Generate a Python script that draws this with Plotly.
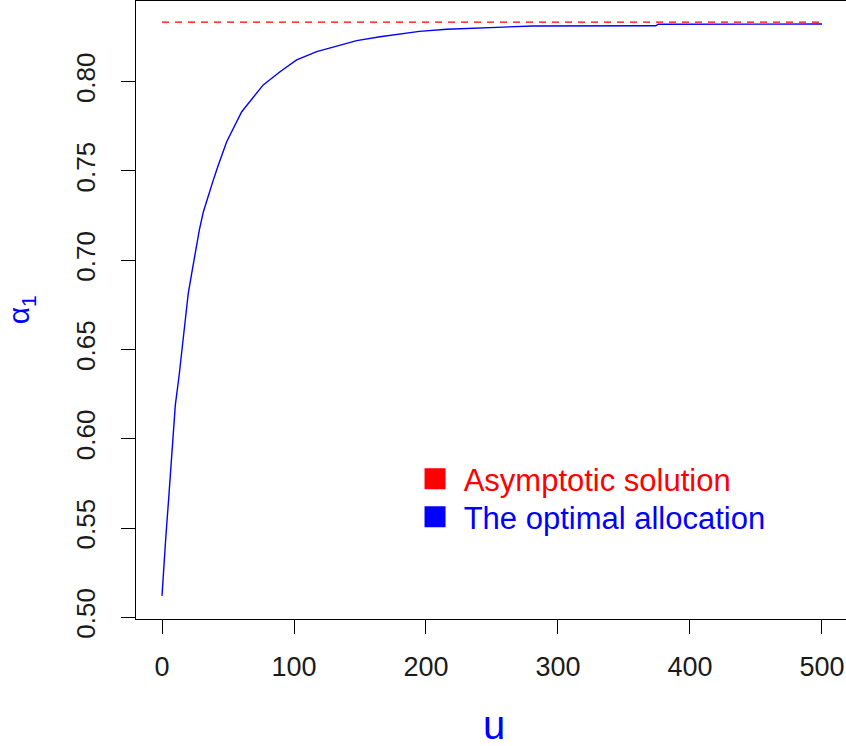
import plotly.graph_objects as go

# ---- data ----
u_vals = [0, 1.5, 2.8, 5.3, 7.6, 10.1, 12.9, 15.2, 17.4, 19.9, 22.5, 25, 28.3, 31.3,
          35.1, 38.9, 42.7, 46.4, 49, 60.4, 69.2, 76.7, 89.4, 102, 117.2, 132.3,
          147.5, 165.2, 185.4, 195, 215.7, 243.4, 281, 374, 376, 500]
alpha_opt = [0.512, 0.532, 0.544, 0.569, 0.5956, 0.619, 0.635, 0.6516, 0.6665, 0.6815,
             0.6927, 0.704, 0.717, 0.727, 0.7366, 0.745, 0.7533, 0.7618, 0.7664, 0.7832,
             0.7916, 0.7982, 0.8056, 0.8122, 0.8168, 0.820, 0.823, 0.8252, 0.8271,
             0.8282, 0.8294, 0.8302, 0.8312, 0.8313, 0.8322, 0.8323]
u_asym = [0, 500]
alpha_asym = [5 / 6, 5 / 6]

x_ticks = [0, 100, 200, 300, 400, 500]
y_ticks = [0.50, 0.55, 0.60, 0.65, 0.70, 0.75, 0.80]
y_tick_text = ["0.50", "0.55", "0.60", "0.65", "0.70", "0.75", "0.80"]

legend_names = ["Asymptotic solution", "The optimal allocation"]
legend_colors = ["#FF0000", "#0000FF"]

FONT = "Liberation Sans, Arial, sans-serif"

fig = go.Figure()
fig.add_trace(go.Scatter(x=u_asym, y=alpha_asym, mode="lines",
                         line=dict(color="#FF0000", width=1.3, dash="7px,6px"),
                         showlegend=False, hoverinfo="skip"))
fig.add_trace(go.Scatter(x=u_vals, y=alpha_opt, mode="lines",
                         line=dict(color="#0000FF", width=1.4),
                         showlegend=False, hoverinfo="skip"))
for i, (name, col) in enumerate(zip(legend_names, legend_colors)):
    fig.add_trace(go.Scatter(
        x=[None], y=[None], mode="markers",
        legend="legend" if i == 0 else "legend2",
        marker=dict(symbol="square", size=16, color=col, line=dict(color=col, width=5)),
        name="\u00a0<span style='color:%s'>%s</span>" % (col, name)))

leg_common = dict(xanchor="left", yanchor="middle",
                  font=dict(size=31, family=FONT),
                  bgcolor="rgba(0,0,0,0)", borderwidth=0)

fig.update_layout(
    width=846, height=746,
    margin=dict(l=136, r=0, t=1, b=127),
    paper_bgcolor="white", plot_bgcolor="white",
    font=dict(family=FONT, color="#000000"),
    showlegend=True,
    legend=dict(x=0.393, y=(619 - 479) / 618, **leg_common),
    legend2=dict(x=0.393, y=(619 - 517) / 618, **leg_common),
    xaxis=dict(range=[-19.7, 518.2], tickvals=x_ticks, ticks="outside", ticklen=14,
               tickwidth=1.3, tickcolor="#000", showline=True, linecolor="#000",
               linewidth=1.3, mirror=True, showgrid=False, zeroline=False,
               tickfont=dict(size=27, color="#1a1a1a"), ticklabelstandoff=9),
    yaxis=dict(range=[0.49905, 0.8452], tickvals=y_ticks, ticktext=y_tick_text,
               ticks="outside", ticklen=14, tickwidth=1.3, tickcolor="#000",
               showline=True, linecolor="#000", linewidth=1.3, mirror=False,
               showgrid=False, zeroline=False, tickangle=-90,
               tickfont=dict(size=26, color="#1a1a1a"), ticklabelstandoff=15),
    annotations=[
        dict(text="u", xref="paper", yref="paper", x=0.504, y=-0.172,
             xanchor="center", yanchor="middle", showarrow=False,
             font=dict(size=40, color="#0000FF", family=FONT)),
        dict(text="α<sub>1</sub>", xref="paper", yref="paper", x=-0.163, y=0.5,
             xanchor="center", yanchor="middle", showarrow=False, textangle=-90,
             font=dict(size=30, color="#0000FF", family=FONT)),
    ],
)

fig.write_html("out.html", config={"displayModeBar": False})
with open("out.html", "r", encoding="utf-8") as f:
    html = f.read()
html = html.replace("<body>", "<body style=\"margin:0;padding:0;overflow:hidden\">", 1)
with open("out.html", "w", encoding="utf-8") as f:
    f.write(html)
